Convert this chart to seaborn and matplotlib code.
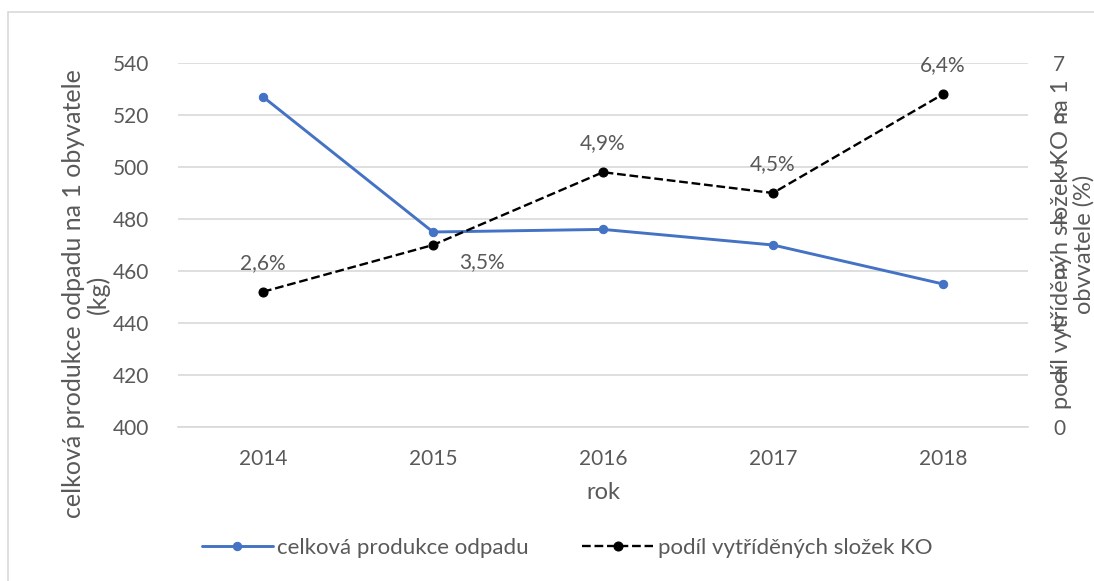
import pandas as pd
import numpy as np
import matplotlib
matplotlib.use("Agg")
import matplotlib.pyplot as plt
import matplotlib.patches as patches
import seaborn as sns

#DATA------------
years = [2014, 2015, 2016, 2017, 2018]
produkce = [527, 475, 476, 470, 455]
podil = [2.6, 3.5, 4.9, 4.5, 6.4]
podil_labels = ["2,6%", "3,5%", "4,9%", "4,5%", "6,4%"]

df = pd.DataFrame({"rok": years, "produkce": produkce, "podil": podil})

#STYLE------------
sns.set_style("white")
plt.rcParams["font.family"] = ["Lato", "DejaVu Sans"]
gray = "#595959"
blue = "#4472C4"
grid = "#d9d9d9"
fs = 15

fig = plt.figure(figsize=(10.94, 5.81), dpi=100)
ax = fig.add_axes([178/1094, 1-427/581, 850/1094, 364/581])

#outer chart border
fig.patches.append(patches.Rectangle((8/1094, -0.1), 2, (581-12)/581 + 0.1,
                                     transform=fig.transFigure, fill=False,
                                     edgecolor=grid, linewidth=1.2))

#left axis - celkova produkce
sns.lineplot(data=df, x="rok", y="produkce", ax=ax, color=blue, linewidth=2.1,
             marker="o", markersize=6, markeredgecolor=blue,
             label="celková produkce odpadu", legend=False)
ax.set_xlim(2013.5, 2018.5)
ax.set_ylim(400, 540)
ax.set_yticks(np.arange(400, 541, 20))
ax.set_xticks(years)
ax.set_xticks(np.arange(2013.5, 2018.6, 1), minor=True)
ax.yaxis.grid(True, color=grid, linewidth=1.2)
ax.set_axisbelow(True)
for s in ["top", "right", "left"]:
    ax.spines[s].set_visible(False)
ax.spines["bottom"].set_color(grid)
ax.spines["bottom"].set_linewidth(1.2)
ax.tick_params(axis="x", which="major", length=0, pad=16, labelsize=fs, labelcolor=gray)
ax.tick_params(axis="x", which="minor", length=6, color=grid, width=1.2)
ax.tick_params(axis="y", length=0, pad=21, labelsize=fs, labelcolor=gray)
ax.set_xlabel("rok", fontsize=17, color=gray, labelpad=9)
ax.set_ylabel("")

#right axis - podil vytridenych slozek
ax2 = ax.twinx()
sns.lineplot(data=df, x="rok", y="podil", ax=ax2, color="black", linewidth=1.7,
             linestyle="--", marker="o", markersize=6.5, markeredgecolor="black",
             label="podíl vytříděných složek KO", legend=False)
ax2.set_ylim(0, 7)
ax2.set_yticks(range(0, 8))
for s in ["top", "right", "left", "bottom"]:
    ax2.spines[s].set_visible(False)
ax2.tick_params(axis="y", length=0, pad=18, labelsize=fs, labelcolor=gray)
ax2.set_ylabel("")
for ln in ax.lines + ax2.lines:
    ln.set_clip_on(False)

#data labels
offsets = [(0, 21), (35, -12), (0, 21), (0, 21), (0, 21)]
for x, y, t, off in zip(years, podil, podil_labels, offsets):
    ax2.annotate(t, (x, y), xytext=off, textcoords="offset points",
                 ha="center", va="center", fontsize=fs, color=gray)

#axis titles
fig.text(86/1094, 1-294/581, "celková produkce odpadu na 1 obyvatele\n(kg)",
         rotation=90, ha="center", va="center", multialignment="center",
         fontsize=18, color=gray, linespacing=1.1)
fig.text(1073/1094, 1-244/581, "podíl vytříděnýh složek KO na 1\nobvvatele (%)",
         rotation=90, ha="center", va="center", multialignment="center",
         fontsize=17, color=gray, linespacing=1.05)

#legend
h1, l1 = ax.get_legend_handles_labels()
h2, l2 = ax2.get_legend_handles_labels()
fig.legend(h1 + h2, l1 + l2, loc="center", bbox_to_anchor=(567/1094, 1-548/581),
           ncol=2, frameon=False, fontsize=16, labelcolor=gray,
           handlelength=3.2, columnspacing=2.4, handletextpad=0.2)

fig.savefig("out.png", dpi=100)
